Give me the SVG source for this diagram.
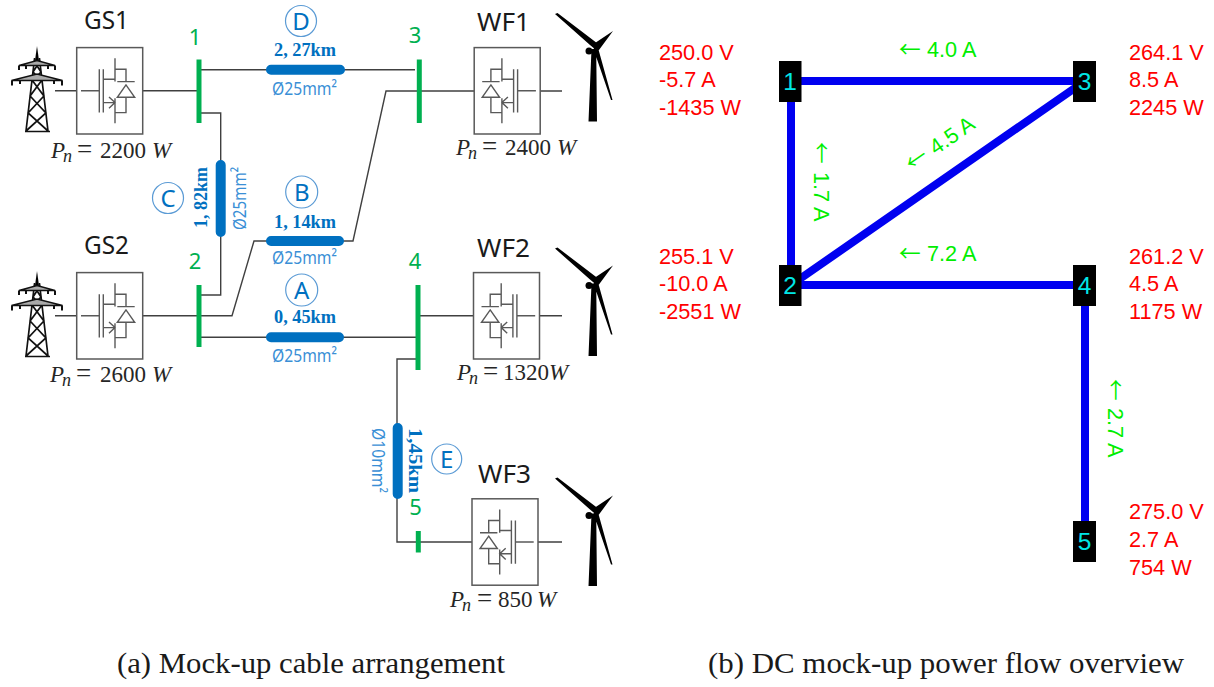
<svg xmlns="http://www.w3.org/2000/svg" width="1214" height="687" viewBox="0 0 1214 687">
<style>
.w{stroke:#404040;stroke-width:1.4;fill:none}
.s{stroke:#595959;stroke-width:1.4;fill:none}
.box{stroke:#595959;stroke-width:1.5;fill:#fff}
.bus{stroke:#00b050;stroke-width:5;fill:none}
.cab{stroke:#0070c0;stroke-width:10;stroke-linecap:round;fill:none}
.hd{font:25px "Noto Sans",sans-serif;fill:#1a1a1a}
.no{font:22px "Noto Sans",sans-serif;fill:#00b050;text-anchor:middle}
.pn{font:23px "Liberation Serif",serif;fill:#262626}
.i{font-style:italic}
.sb{font-style:italic;font-size:18px}
.eq{font-size:27px}
.km{font:bold 19px "Liberation Serif",serif;fill:#0070c0}
.mm{font:18px "Noto Sans",sans-serif;fill:#3a8fd6}
.ci{fill:none;stroke:#5b9bd5;stroke-width:1.2}
.cl{font:24px "Noto Sans",sans-serif;fill:#0070c0;text-anchor:middle}
.e{stroke:#0000f0;stroke-width:8;fill:none}
.nb{fill:#000}
.nt{font:24.5px "Liberation Sans",sans-serif;fill:#00e6e6;text-anchor:middle}
.r{font:21.7px "Liberation Sans",sans-serif;fill:#ff0000}
.g{font:21.7px "Liberation Sans",sans-serif;fill:#00ee00}
.ar{font:21.7px "Noto Sans CJK SC",sans-serif}
.cap{font:29.5px "Liberation Serif",serif;fill:#1a1a1a}
</style>
<defs>
<g id="conv">
<rect class="box" x="-33" y="-43.2" width="66" height="86.4"/>
<path class="s" d="M-28.7 0H-10.4M-10.4-21.5V21.8M-6.4-21.5V21.8M5.3-32.5V-9.2M5.3 7.5V32.5M-5.7-11.5H5.3M-5.7 11.8H5.3M-.7 6.2L5.3 11.8L-.7 17.5M5.3-21.5H16.3V-9.2M7.6-9.2H25M16.3-5.9L7.6 6.5H25ZM16.3 6.5V21.8H5.3"/>
</g>
<g id="tower">
<path d="M37 46L39.2 62H34.8Z" fill="#000"/>
<path d="M34.6 58L26 131M39.4 58L48 131M25 131.5H50M34.5 62L41 72L33 80L42 80M39.5 62L33 72L41 80L32 80M32 80L43.9 96L28.1 113L48 131M42 80L30.1 96L45.9 113L26 131" stroke="#111" stroke-width="1.7" fill="none"/>
<path d="M19 65.5L37 60.5L55 65.5H19ZM11.5 80.5L37 74L62.5 80.5H11.5Z" stroke="#111" stroke-width="1.5" fill="#aaa"/>
<path d="M19 65.5V70M55 65.5V70M12 80.5V85.5M62 80.5V85.5M26 65.5V69M48 65.5V69M20 80.5V84M54 80.5V84" stroke="#111" stroke-width="2"/>
</g>
<g id="turbine">
<path fill="#000" d="M-3.5 2H1.2L2 74.5H-6.5ZM-40-33L-37.5-34L2.5-3.5L1 3L-5-2ZM18-16L2.5 5L-3-2ZM17.5 53L16 53L-1.5 2L2.5-1Z"/>
<circle cx="-6" cy="4" r="3.5" fill="#000"/>
</g>
</defs>

<g id="connectors">
<path class="w" d="M55 90.7H199M199 69.7H415M199 113H220.7V295H199M143 315.7H232L254 241H353L386 91H540.7H562"/>
<path class="w" d="M55 315.7H143M199 337.3H418M418 315.7H562M416 359H397V542H562"/>
<path class="cab" d="M271 69.7H340M220.7 165V232M271 241H339M271 337.3H339M397.7 428V494"/>
<path class="e" d="M791 81H1085M791 81V285M791 285L1085 81M791 285H1085M1085 285V541"/>
</g>

<g id="bus1"><path class="bus" d="M199 59.5V123"/><text class="no" x="195" y="45">1</text></g>
<g id="bus2"><path class="bus" d="M199 285V347"/><text class="no" x="195" y="269">2</text></g>
<g id="bus3"><path class="bus" d="M419.3 59.5V123"/><text class="no" x="415" y="43">3</text></g>
<g id="bus4"><path class="bus" d="M418 285V370"/><text class="no" x="415" y="269">4</text></g>
<g id="bus5"><path class="bus" d="M418.3 531V552.5"/><text class="no" x="415.5" y="515">5</text></g>

<g id="GS1"><text class="hd" x="84" y="29.3" textLength="45" lengthAdjust="spacingAndGlyphs">GS1</text><use href="#tower"/><use href="#conv" transform="translate(109.7 90.8)"/>
<text class="pn" y="157.7"><tspan class="i" x="51">P</tspan><tspan class="sb" x="63" dy="4">n</tspan><tspan class="eq" x="77" dy="-4">=</tspan><tspan x="100">2200</tspan><tspan class="i" x="152">W</tspan></text></g>
<g id="GS2"><text class="hd" x="84" y="254" textLength="45" lengthAdjust="spacingAndGlyphs">GS2</text><use href="#tower" transform="translate(0 225)"/><use href="#conv" transform="translate(109.7 315.8)"/>
<text class="pn" y="381.7"><tspan class="i" x="50">P</tspan><tspan class="sb" x="62" dy="4">n</tspan><tspan class="eq" x="76" dy="-4">=</tspan><tspan x="100">2600</tspan><tspan class="i" x="152">W</tspan></text></g>
<g id="WF1"><text class="hd" x="477" y="31" textLength="53" lengthAdjust="spacingAndGlyphs">WF1</text><use href="#conv" transform="translate(507.2 90.8) scale(-1 1)"/><use href="#turbine" transform="translate(595 47)"/>
<text class="pn" y="155"><tspan class="i" x="456">P</tspan><tspan class="sb" x="468" dy="4">n</tspan><tspan class="eq" x="482" dy="-4">=</tspan><tspan x="505">2400</tspan><tspan class="i" x="557">W</tspan></text></g>
<g id="WF2"><text class="hd" x="477" y="257" textLength="53" lengthAdjust="spacingAndGlyphs">WF2</text><use href="#conv" transform="translate(506.5 315.8) scale(-1 1)"/><use href="#turbine" transform="translate(595 281.5)"/>
<text class="pn" y="380"><tspan class="i" x="457">P</tspan><tspan class="sb" x="469" dy="4">n</tspan><tspan class="eq" x="483" dy="-4">=</tspan><tspan x="503">1320</tspan><tspan class="i" x="549">W</tspan></text></g>
<g id="WF3"><text class="hd" x="478" y="483" textLength="53" lengthAdjust="spacingAndGlyphs">WF3</text><use href="#conv" transform="translate(505 542) scale(-1 1)"/><use href="#turbine" transform="translate(595 511.5)"/>
<text class="pn" y="607"><tspan class="i" x="450">P</tspan><tspan class="sb" x="462" dy="4">n</tspan><tspan class="eq" x="477" dy="-4">=</tspan><tspan x="498">850</tspan><tspan class="i" x="537">W</tspan></text></g>

<g id="cableD"><circle class="ci" cx="301" cy="21" r="15.5"/><text class="cl" x="301" y="30">D</text><text class="km" x="274" y="56" textLength="62" lengthAdjust="spacingAndGlyphs">2, 27km</text><text class="mm" x="272" y="95" textLength="65" lengthAdjust="spacingAndGlyphs">Ø25mm²</text></g>
<g id="cableB"><circle class="ci" cx="301.7" cy="192" r="16"/><text class="cl" x="301.7" y="201">B</text><text class="km" x="274" y="228" textLength="62" lengthAdjust="spacingAndGlyphs">1, 14km</text><text class="mm" x="272" y="264" textLength="65" lengthAdjust="spacingAndGlyphs">Ø25mm²</text></g>
<g id="cableA"><circle class="ci" cx="301.7" cy="290" r="16"/><text class="cl" x="301.7" y="299">A</text><text class="km" x="274" y="323" textLength="62" lengthAdjust="spacingAndGlyphs">0, 45km</text><text class="mm" x="272" y="362" textLength="65" lengthAdjust="spacingAndGlyphs">Ø25mm²</text></g>
<g id="cableC"><circle class="ci" cx="168" cy="198" r="15.5"/><text class="cl" x="168" y="207">C</text><text class="km" transform="translate(206.7 228) rotate(-90)" textLength="61" lengthAdjust="spacingAndGlyphs">1, 82km</text><text class="mm" transform="translate(246 230) rotate(-90)" textLength="63" lengthAdjust="spacingAndGlyphs">Ø25mm²</text></g>
<g id="cableE"><circle class="ci" cx="446.7" cy="459" r="15"/><text class="cl" x="446.7" y="468">E</text><text class="km" transform="translate(409 428) rotate(90)" textLength="65" lengthAdjust="spacingAndGlyphs">1,45km</text><text class="mm" transform="translate(372 428) rotate(90)" textLength="65" lengthAdjust="spacingAndGlyphs">Ø10mm²</text></g>

<g id="node1"><rect class="nb" x="779" y="61" width="22.5" height="41"/><text class="nt" x="790" y="89.5">1</text></g>
<g id="node2"><rect class="nb" x="779" y="265" width="22.5" height="41"/><text class="nt" x="790" y="293.5">2</text></g>
<g id="node3"><rect class="nb" x="1073" y="61" width="23" height="41"/><text class="nt" x="1084.5" y="89.5">3</text></g>
<g id="node4"><rect class="nb" x="1073" y="265" width="23" height="41"/><text class="nt" x="1084.5" y="293.5">4</text></g>
<g id="node5"><rect class="nb" x="1073" y="521" width="23" height="41"/><text class="nt" x="1084.5" y="550">5</text></g>

<g id="values">
<text class="r" x="659" y="59.5">250.0 V</text><text class="r" x="659" y="87">-5.7 A</text><text class="r" x="659" y="115">-1435 W</text>
<text class="r" x="659" y="263.5">255.1 V</text><text class="r" x="659" y="291">-10.0 A</text><text class="r" x="659" y="319">-2551 W</text>
<text class="r" x="1129" y="59.5">264.1 V</text><text class="r" x="1129" y="87">8.5 A</text><text class="r" x="1129" y="115">2245 W</text>
<text class="r" x="1129" y="263.5">261.2 V</text><text class="r" x="1129" y="291">4.5 A</text><text class="r" x="1129" y="319">1175 W</text>
<text class="r" x="1129" y="519">275.0 V</text><text class="r" x="1129" y="547">2.7 A</text><text class="r" x="1129" y="575">754 W</text>
<text class="g" y="56.7"><tspan class="ar" x="899">←</tspan><tspan x="927">4.0 A</tspan></text>
<text class="g" y="260.7"><tspan class="ar" x="899">←</tspan><tspan x="927">7.2 A</tspan></text>
<text class="g" transform="translate(813.5 142) rotate(90)"><tspan class="ar" x="0">←</tspan><tspan x="30">1.7 A</tspan></text>
<text class="g" transform="translate(1107.7 379) rotate(90)"><tspan class="ar" x="0">←</tspan><tspan x="29">2.7 A</tspan></text>
<text class="g" transform="translate(912 172) rotate(-34.8)"><tspan class="ar" x="0">←</tspan><tspan x="29">4.5 A</tspan></text>
</g>
<text class="cap" x="117" y="673" textLength="388" lengthAdjust="spacingAndGlyphs">(a) Mock-up cable arrangement</text>
<text class="cap" x="708" y="673" textLength="476" lengthAdjust="spacingAndGlyphs">(b) DC mock-up power flow overview</text>
</svg>
